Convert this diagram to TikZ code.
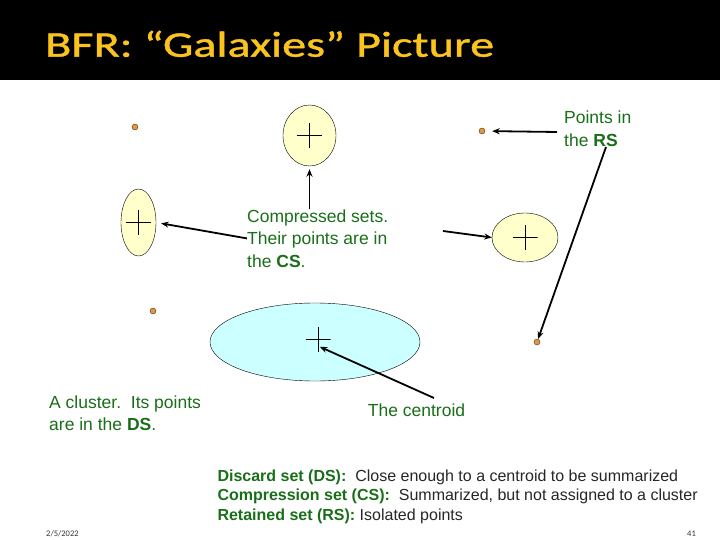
\documentclass[tikz,border=0pt]{standalone}
\usepackage{fontspec}
\setmainfont{Liberation Sans}
\newfontfamily\titlefont{Carlito}[FakeStretch=1.34,FakeBold=1.2]
\newfontfamily\smallfont{Carlito}
\usetikzlibrary{arrows.meta,shapes.geometric}
\definecolor{notegreen}{RGB}{25,110,25}
\definecolor{titleyellow}{RGB}{250,195,30}
\definecolor{setyellow}{RGB}{255,255,204}
\definecolor{setblue}{RGB}{204,255,255}
\definecolor{pointorange}{RGB}{225,150,60}

\begin{document}
\begin{tikzpicture}[x=1pt,y=-1pt,>={Stealth[length=7.5pt,width=6pt]},
note/.style={text=notegreen,align=left,inner sep=0pt,anchor=north west,font=\fontsize{17.5}{22.5}\selectfont},
legend/.style={text=black!85,inner sep=0pt,anchor=base west,font=\fontsize{16}{17}\selectfont},
cset/.style={ellipse,draw,thin,fill=setyellow,inner sep=0pt},
dset/.style={ellipse,draw,thin,fill=setblue,inner sep=0pt},
rspoint/.style={circle,draw=black!60!brown,fill=pointorange,inner sep=0pt,minimum size=6pt},
centre/.style={inner sep=0pt,minimum size=25pt,path picture={\draw[thin] (path picture bounding box.north)--(path picture bounding box.south) (path picture bounding box.west)--(path picture bounding box.east);}},
arr/.style={->,line width=1.8pt}]
\useasboundingbox (0,0) rectangle (720,540);
\fill[black] (0,0) rectangle (720,80);
\node[text=titleyellow,font=\titlefont\fontsize{36}{36}\selectfont,anchor=base west,inner sep=0pt] (title) at (45,56.7) {BFR: “Galaxies” Picture};
% compressed sets
\node[cset,minimum width=53pt,minimum height=61pt] (cs1) at (309.5,135.5) {};
\node[cset,minimum width=35pt,minimum height=67pt] (cs2) at (138.5,222.5) {};
\node[cset,minimum width=66pt,minimum height=49pt] (cs3) at (525,237.5) {};
\node[centre] (csc1) at (cs1.center) {};
\node[centre] (csc2) at (cs2.center) {};
\node[centre] (csc3) at (cs3.center) {};
% the cluster
\node[dset,minimum width=210pt,minimum height=78pt] (ds) at (315,342) {};
\node[centre] (dsc) at (318,339) {};
% retained points
\node[rspoint] (pt1) at (135,127) {};
\node[rspoint] (pt2) at (482,131) {};
\node[rspoint] (pt3) at (153,311) {};
\node[rspoint] (pt4) at (537,342) {};
% labels
\node[note] (compressed) at (247,209.3) {Compressed sets.\\Their points are in\\the \textbf{CS}.};
\node[note] (retained) at (564,111) {Points in\\the \textbf{RS}};
\node[note] (cluster) at (49,395.3) {A cluster.\ \ Its points\\are in the \textbf{DS}.};
\node[note] (centroid) at (367.7,403.6) {The centroid};
\coordinate (cstail) at (443,231);
\coordinate (rstail1) at (557,132);
\coordinate (rstail2) at (606,147);
\coordinate (centail) at (434,398);
\draw[arr,shorten >=5pt] (compressed.west) -- (cs2.east);
\draw[arr,shorten >=3pt] (compressed.north -| cs1.south) -- (cs1.south);
\draw[arr] (cstail) -- (cs3.west);
\draw[arr,shorten >=7pt] (rstail1) -- (pt2);
\draw[arr] (rstail2) -- (pt4);
\draw[arr,shorten >=2pt] (centail) -- ([yshift=-7pt]dsc.center);
% legend
\node[legend] (dsline) at (217.3,481.7) {\textcolor{notegreen}{\textbf{Discard set (DS):}}\ \ Close enough to a centroid to be summarized};
\node[legend] (csline) at ([yshift=-19.2pt]dsline.base west) {\textcolor{notegreen}{\textbf{Compression set (CS):}}\ \ Summarized, but not assigned to a cluster};
\node[legend] (rsline) at ([yshift=-19.2pt]csline.base west) {\textcolor{notegreen}{\textbf{Retained set (RS):}} Isolated points};
\node[font=\smallfont\fontsize{8.5}{9}\selectfont,text=black!80,anchor=base west,inner sep=0pt] (date) at (46,536.5) {2/5/2022};
\node[font=\smallfont\fontsize{8.5}{9}\selectfont,text=black!80,anchor=base west,inner sep=0pt] (page) at (687,536.5) {41};
\end{tikzpicture}
\end{document}
